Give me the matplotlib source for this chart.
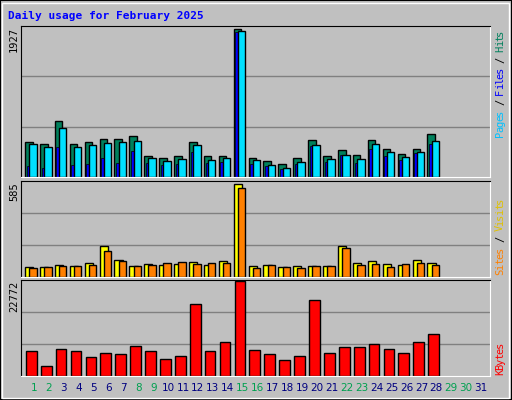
import matplotlib
matplotlib.use("Agg")
import matplotlib.pyplot as plt
from matplotlib.patches import Rectangle

days = list(range(1, 32))
hits = [462, 436, 724, 436, 462, 501, 501, 528, 279, 253, 279, 462, 279, 279, 1927, 253,
        214, 174, 253, 488, 279, 358, 292, 488, 371, 305, 371, 554]
files = [436, 397, 632, 397, 423, 449, 462, 475, 253, 214, 240, 423, 227, 253, 1901, 227,
         161, 122, 201, 423, 240, 292, 240, 436, 331, 266, 331, 475]
pages = [140, 113, 397, 153, 166, 253, 179, 344, 187, 161, 174, 331, 187, 201, 1890, 174,
         148, 109, 174, 410, 201, 292, 187, 371, 279, 227, 318, 436]
visits = [65, 65, 78, 72, 90, 198, 109, 72, 84, 78, 84, 97, 78, 103, 585, 72,
          78, 65, 72, 72, 72, 198, 90, 103, 84, 78, 109, 90]
sites = [59, 65, 72, 72, 78, 166, 103, 72, 78, 90, 97, 84, 90, 90, 558, 59,
         78, 65, 59, 72, 72, 185, 78, 84, 65, 84, 90, 78]
kbytes = [6095, 2486, 6576, 6095, 4652, 5614, 5373, 7298, 6095, 4170, 4892, 17403, 6095, 8260,
          22772, 6336, 5373, 3930, 4892, 18365, 5614, 7057, 7057, 7779, 6576, 5614, 8260, 10185]
weekend = [1, 2, 8, 9, 15, 16, 22, 23, 29, 30]

W, H = 512, 400
fig = plt.figure(figsize=(W / 100, H / 100), dpi=100, facecolor="#c0c0c0")

# raised outer border
fig.patches.append(Rectangle((0, 0), 1, 1, transform=fig.transFigure, fill=False,
                             edgecolor="black", lw=1.5))
fig.patches.append(Rectangle((2 / W, 2 / H), 1 - 5 / W, 1 - 5 / H, transform=fig.transFigure,
                             fill=False, edgecolor="white", lw=1))

fig.text(8 / W, 1 - 16 / H, "Daily usage for February 2025", color="#0000ff",
         fontsize=8, fontweight="bold", family="DejaVu Sans Mono", va="center")

left, right = 21 / W, 490 / W


def panel(top, bottom, ymax):
    ax = fig.add_axes([left, 1 - bottom / H, right - left, (bottom - top) / H])
    ax.set_facecolor("#c0c0c0")
    ax.set_xlim(0.13, 31.6)
    ax.set_ylim(0, ymax)
    for g in (ymax / 3, 2 * ymax / 3):
        ax.axhline(g, color="#808080", lw=1, zorder=0)
    ax.set_xticks([])
    ax.set_yticks([])
    for s in ("left", "top"):
        ax.spines[s].set_color("black")
    for s in ("right", "bottom"):
        ax.spines[s].set_color("white")
    return ax


def side_label(parts, y_bottom, step):
    # vertical label drawn character by character from the bottom up
    i = 0
    for txt, col in parts:
        for ch in txt:
            if ch != " ":
                fig.text(500 / W, 1 - (y_bottom - (i + 0.5) * step) / H, ch, rotation=90,
                         color=col, fontsize=7.5, family="DejaVu Sans Mono",
                         ha="center", va="center")
            i += 1


ec = dict(edgecolor="black", linewidth=1, align="edge")
d = days[:len(hits)]

ax1 = panel(26, 177, 1927 * 151 / 148)
ax1.bar([x - 0.6 for x in d], hits, width=0.51, color="#00805c", **ec)
ax1.bar([x - 0.49 for x in d], pages, width=0.17, color="#0000ff", edgecolor="black", lw=0.5, align="edge")
ax1.bar([x - 0.32 for x in d], files, width=0.5, color="#00e0ff", **ec)
fig.text(14 / W, 1 - 40 / H, "1927", rotation=90, fontsize=7.5, family="DejaVu Sans Mono",
         ha="center", va="center")
side_label([("Pages", "#00c0ff"), (" / ", "black"), ("Files", "#0000ff"),
            (" / ", "black"), ("Hits", "#00805c")], 137, 5.35)

ax2 = panel(181, 277, 585 * 96 / 93)
ax2.bar([x - 0.6 for x in d], visits, width=0.55, color="#ffff00", **ec)
ax2.bar([x - 0.32 for x in d], sites, width=0.5, color="#ff8000", **ec)
fig.text(14 / W, 1 - 192 / H, "585", rotation=90, fontsize=7.5, family="DejaVu Sans Mono",
         ha="center", va="center")
side_label([("Sites", "#ff8000"), (" / ", "black"), ("Visits", "#e0c000")], 275, 5.5)

ax3 = panel(280, 376, 22772 * 96 / 94.7)
ax3.bar([x - 0.54 for x in d], kbytes, width=0.72, color="#ff0000", **ec)
fig.text(14 / W, 1 - 296 / H, "22772", rotation=90, fontsize=7.5, family="DejaVu Sans Mono",
         ha="center", va="center")
side_label([("KBytes", "#ff0000")], 375, 5.4)

for day in days:
    x = left + (right - left) * (day - 0.13) / (31.6 - 0.13)
    fig.text(x, 1 - 388 / H, str(day), color="#00a050" if day in weekend else "#000080",
             fontsize=7.5, family="DejaVu Sans", ha="center", va="center")

fig.savefig("out.png", dpi=100, facecolor=fig.get_facecolor())
